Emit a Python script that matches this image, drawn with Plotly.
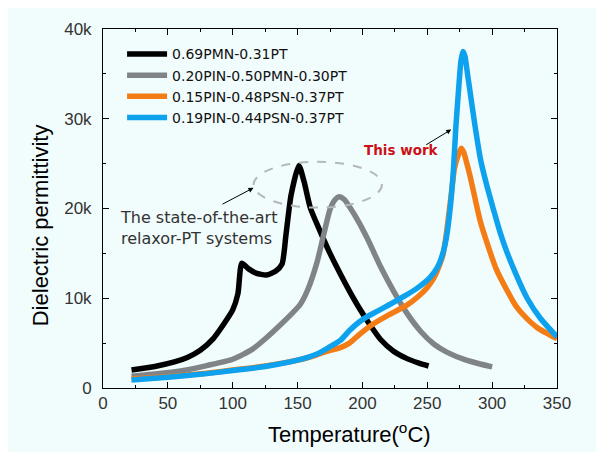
import plotly.graph_objects as go

# ---- data ----
black_T = [22, 40, 55, 65, 75, 85, 93, 100, 104, 107, 112, 118, 126, 133, 138, 141, 145, 151, 155, 160, 167, 175, 183, 190, 198, 206, 214, 224, 234, 243, 251]
black_v = [2000, 2400, 2900, 3400, 4200, 5500, 7100, 8700, 10500, 13900, 13300, 12800, 12600, 13000, 13800, 17000, 21500, 24800, 23000, 20000, 17600, 15000, 12700, 10800, 8800, 7000, 5400, 4100, 3300, 2800, 2450]

gray_T = [22, 40, 60, 80, 100, 115, 126, 135, 145, 152, 158, 165, 170, 175, 179, 182, 186, 190, 196, 204, 214, 224, 234, 245, 255, 265, 280, 290, 300]
gray_v = [1300, 1550, 1900, 2500, 3200, 4300, 5600, 6800, 8200, 9300, 11000, 14000, 17000, 19900, 21000, 21300, 21000, 20200, 18800, 16600, 13500, 10800, 8400, 6300, 4900, 4000, 3100, 2700, 2350]

orange_T = [22, 50, 80, 100, 125, 150, 165, 175, 183, 190, 198, 208, 221, 234, 243, 250, 256, 262, 265, 268, 271, 274, 276, 278, 280, 283, 287, 291, 296, 303, 311, 319, 327, 335, 350]
orange_v = [1000, 1250, 1650, 2000, 2450, 3100, 3700, 4200, 4500, 5000, 6000, 7100, 8200, 9200, 10200, 11200, 12500, 14800, 17500, 21000, 24500, 26000, 26700, 26300, 25300, 23600, 21000, 18500, 16200, 13300, 11000, 9000, 7700, 6700, 5500]

blue_T = [22, 50, 80, 100, 125, 150, 165, 175, 183, 190, 197, 203, 212, 221, 232, 242, 252, 258, 262, 265, 268, 270, 272, 274, 276, 277.5, 279, 281, 283, 287, 291, 296, 301, 306, 311, 318, 327, 337, 350]
blue_v = [900, 1200, 1600, 1950, 2400, 3100, 3800, 4600, 5300, 6400, 7300, 7900, 8600, 9300, 10200, 11100, 12300, 13500, 15000, 17000, 20500, 24000, 29000, 33000, 36500, 37500, 37000, 35000, 33000, 29000, 25500, 22500, 19900, 17400, 15300, 12800, 10000, 7800, 5700]

series_names = ["0.69PMN-0.31PT", "0.20PIN-0.50PMN-0.30PT", "0.15PIN-0.48PSN-0.37PT", "0.19PIN-0.44PSN-0.37PT"]
series_colors = ["#000000", "#808488", "#f47c14", "#0ea2ee"]

x_tickvals = [0, 50, 100, 150, 200, 250, 300, 350]
y_tickvals = [0, 10000, 20000, 30000, 40000]
y_ticktext = ["0", "10k", "20k", "30k", "40k"]

BG = "#f1fcfc"

fig = go.Figure()
for T, v, name, col in zip([black_T, gray_T, orange_T, blue_T],
                           [black_v, gray_v, orange_v, blue_v],
                           series_names, series_colors):
    fig.add_trace(go.Scatter(x=T, y=v, mode="lines", name=name,
                             line=dict(color=col, width=5.5, shape="spline", smoothing=0.6)))

# dashed ellipse
fig.add_shape(type="circle", xref="x", yref="y", x0=116, x1=215, y0=20100, y1=25200,
              line=dict(color="#b4b8b8", width=2, dash="dash"))

# arrows
fig.add_annotation(x=116, y=22300, ax=91, ay=20400, xref="x", yref="y", axref="x", ayref="y",
                   text="", showarrow=True, arrowhead=2, arrowsize=1, arrowwidth=1, arrowcolor="#000")
fig.add_annotation(x=268.5, y=28800, ax=248, ay=27000, xref="x", yref="y", axref="x", ayref="y",
                   text="", showarrow=True, arrowhead=2, arrowsize=1, arrowwidth=1, arrowcolor="#000")

fig.add_annotation(x=230.5, y=26500, xref="x", yref="y", text="<b>This work</b>", showarrow=False,
                   font=dict(family="DejaVu Sans", size=13.5, color="#cc1018"))
fig.add_annotation(x=11.5, y=17800, xref="x", yref="y", xanchor="left", yanchor="middle", align="left",
                   text="The state-of-the-art<br>relaxor-PT systems", showarrow=False,
                   font=dict(family="DejaVu Sans", size=16, color="#333333"))

# axis titles (placed as in the reference, off-centre)
fig.add_annotation(xref="paper", yref="paper", x=-0.139, y=0.453, xanchor="center", yanchor="middle",
                   text="Dielectric permittivity", textangle=-90, showarrow=False,
                   font=dict(family="Liberation Sans, Arial", size=22, color="#000"))
fig.add_annotation(xref="paper", yref="paper", x=0.544, y=-0.126, xanchor="center", yanchor="middle",
                   text="Temperature(<sup>o</sup>C)", showarrow=False,
                   font=dict(family="Liberation Sans, Arial", size=22, color="#000"))

fig.update_layout(
    width=604, height=452,
    margin=dict(l=95, r=55, t=16, b=72),
    paper_bgcolor=BG, plot_bgcolor=BG,
    font=dict(family="Liberation Sans, Arial", color="#000"),
    showlegend=True,
    legend=dict(x=0.042, y=0.974, xanchor="left", yanchor="top", bgcolor="rgba(0,0,0,0)",
                font=dict(family="DejaVu Sans", size=14, color="#111"), tracegroupgap=0, itemwidth=40),
)
fig.update_xaxes(range=[0, 350], tickvals=x_tickvals, ticks="inside", ticklen=6, tickcolor="#000",
                 minor=dict(ticks="inside", dtick=25, ticklen=3, tickcolor="#000"),
                 showline=True, linecolor="#000", linewidth=1, mirror="ticks", showgrid=False, zeroline=False,
                 tickfont=dict(size=17, color="#333"))
fig.update_yaxes(range=[0, 40000], tickvals=y_tickvals, ticktext=y_ticktext, ticks="inside", ticklen=6, tickcolor="#000",
                 minor=dict(ticks="inside", dtick=5000, ticklen=3, tickcolor="#000"),
                 showline=True, linecolor="#000", linewidth=1, mirror="ticks", showgrid=False, zeroline=False,
                 tickfont=dict(size=17, color="#333"), ticklabelstandoff=7)

fig.write_html("out.html")
